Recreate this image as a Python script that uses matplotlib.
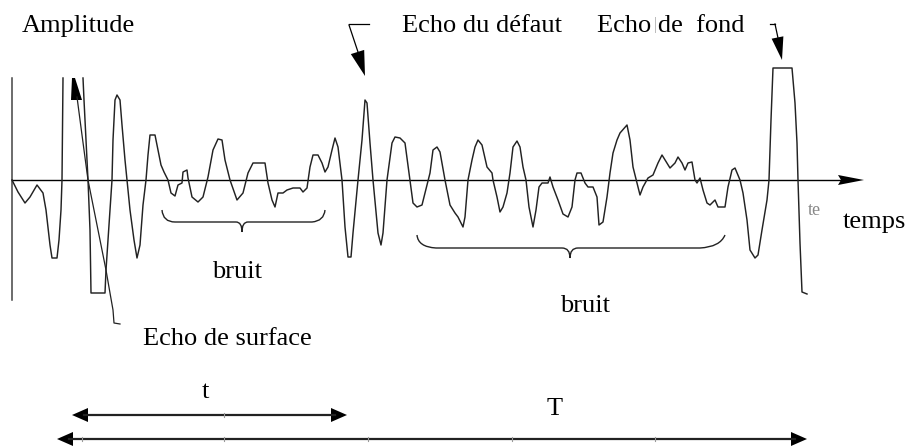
import numpy as np
import matplotlib.pyplot as plt
from matplotlib.path import Path
from matplotlib.patches import PathPatch

plt.rcParams['font.family'] = ['Liberation Serif', 'DejaVu Serif']

# A-scan trace: time (px) and amplitude (px above the time axis).
# The surface echo saturates, so the trace is broken at its top (nan).
temps = [12, 18, 25, 30, 37, 43, 46, 50, 52, 57, 59, 61, 62, 63, 73,
         83, 84, 86, 88, 90, 91, 105, 106, 108, 110, 112, 113, 115, 117, 120,
         122, 125, 127, 130, 134, 137, 140, 143, 146, 148, 150, 155, 158, 161,
         164, 168, 171, 175, 178, 182, 183, 187, 188, 192, 198, 203, 208, 213,
         218, 222, 225, 230, 237, 243, 248, 253, 265, 268, 272, 275, 278, 283,
         287, 293, 300, 303, 307, 310, 313, 318, 322, 325, 328, 332, 335, 338,
         342, 345, 348, 351, 353, 358, 362, 365, 367, 370, 373, 378, 381, 383,
         387, 392, 395, 400, 405, 410, 413, 417, 422, 425, 430, 433, 437, 440,
         445, 450, 455, 458, 463, 465, 468, 472, 475, 478, 482, 487, 492, 493,
         497, 500, 503, 507, 510, 513, 517, 520, 523, 526, 529, 533, 536, 539,
         542, 548, 550, 553, 558, 563, 568, 572, 575, 577, 581, 585, 588, 593,
         597, 599, 603, 607, 610, 613, 617, 620, 627, 630, 633, 637, 640, 643,
         648, 653, 658, 662, 667, 670, 675, 678, 682, 685, 688, 692, 695, 697,
         700, 703, 707, 710, 715, 718, 725, 728, 732, 735, 740, 743, 747, 750,
         755, 758, 762, 767, 769, 771, 773, 792, 795, 797, 798, 800, 802, 807]
amplitude = [0, -12, -23, -17, -5, -13, -30, -65, -78, -78, -60, -30, 0, 102, np.nan,
             102, 80, 40, 0, -50, -113, -113, -90, -60, -30, 0, 40, 80, 85, 80,
             55, 20, 0, -30, -60, -78, -65, -25, 0, 25, 45, 45, 30, 15,
             8, 0, -13, -16, -5, -3, 8, 10, 2, -17, -22, -17, 3, 30,
             41, 40, 20, 0, -20, -13, 7, 17, 17, -3, -20, -27, -13, -13,
             -10, -8, -8, -12, -8, 13, 25, 25, 17, 8, 13, 30, 42, 33,
             0, -47, -77, -77, -53, 0, 40, 80, 77, 37, 0, -53, -65, -53,
             0, 37, 43, 42, 37, 0, -23, -27, -25, -13, 7, 30, 33, 28,
             0, -25, -33, -37, -47, -37, 0, 20, 33, 40, 35, 13, 7, 0,
             -17, -32, -27, -13, 7, 33, 39, 33, 13, 0, -27, -47, -30, -7,
             -3, -3, 3, -7, -20, -34, -37, -27, 0, 7, 7, -3, -7, -7,
             -17, -45, -42, -17, 7, 27, 40, 47, 55, 40, 13, -3, -15, -7,
             2, 5, 17, 25, 17, 12, 17, 23, 17, 10, 17, 18, 0, -3,
             2, -10, -23, -25, -20, -27, -27, -7, 10, 12, 0, -13, -40, -70,
             -78, -75, -50, -20, 0, 60, 112, 112, 77, 37, 0, -63, -112, -114]

fig = plt.figure(figsize=(9.08, 4.48), dpi=100)
ax = fig.add_axes([0, 0, 1, 1])
ax.set_xlim(0, 908)
ax.set_ylim(-268, 180)
ax.axis('off')

fs = 19

def head(tip, base_c, half):
    # filled triangular arrow head from tip back to base centre
    tip = np.array(tip, float)
    b = np.array(base_c, float)
    d = tip - b
    n = np.array([-d[1], d[0]]) / np.hypot(*d) * half
    pts = np.array([tip, b + n, b - n])
    ax.fill(pts[:, 0], pts[:, 1], color='black', lw=0)

# amplitude axis and time axis
ax.plot([12, 12], [102, -120], color='#444', lw=1.1)
ax.plot([12, 840], [0, 0], color='black', lw=1.0)
ax.fill([838, 864, 838, 841], [5, 0, -5, 0], color='black', lw=0)

# the signal
ax.plot(temps, amplitude, color='#222', lw=1.05)

# surface echo pointer
ax.plot([77, 82, 88, 97, 106, 110, 113, 114, 120],
        [83, 45, 0, -45, -90, -113, -130, -143, -144], color='#222', lw=0.9)
ax.fill([71, 72, 75, 82], [80, 102, 102, 80], color='black', lw=0)

# defect echo pointer
ax.plot([349, 369], [156, 156], color='black', lw=0.9)
ax.plot([349, 358], [155, 128], color='black', lw=0.9)
head((365, 104), (357.5, 128), 7)

# back wall echo pointer
ax.plot([770, 775], [156, 156], color='black', lw=0.9)
ax.plot([775, 778], [156, 142], color='black', lw=0.9)
head((782, 120), (777.5, 142.5), 6)

# noise braces
M, L, C = Path.MOVETO, Path.LINETO, Path.CURVE3
brace1 = Path([(162, -30), (163, -42), (175, -42), (236, -42), (242, -42), (242, -52),
               (242, -42), (248, -42), (312, -42), (324, -41), (325, -30)],
              [M, C, C, L, C, C, C, C, L, C, C])
brace2 = Path([(417, -55), (418, -67), (436, -68), (562, -68), (570, -68), (570, -78),
               (570, -68), (578, -68), (700, -68), (720, -67), (725, -55)],
              [M, C, C, L, C, C, C, C, L, C, C])
for p in (brace1, brace2):
    ax.add_patch(PathPatch(p, fill=False, color='#222', lw=1.0))

# t and T durations
for y, x0, x1 in [(-235, 72, 347), (-259, 57, 807)]:
    ax.plot([x0 + 12, x1 - 12], [y, y], color='#222', lw=1.6)
    head((x0, y), (x0 + 16, y), 7)
    head((x1, y), (x1 - 16, y), 7)
ax.plot([224, 224], [-233, -237], color='#999', lw=0.8)
for x in [82, 224, 368, 512, 655]:
    ax.plot([x, x], [-257, -261], color='#999', lw=0.8)

# labels
ax.text(22, 148, 'Amplitude', fontsize=fs, va='baseline')
ax.text(402, 148, 'Echo du défaut', fontsize=fs, va='baseline')
ax.text(597, 148, 'Echo de  fond', fontsize=fs, va='baseline')
ax.plot([655, 655], [163, 148], color='#bbb', lw=0.7)
ax.text(808, -30, 'te', fontsize=13, color='#888', va='center')
ax.text(843, -48, 'temps', fontsize=fs, va='baseline')
ax.text(212, -98, 'bruit', fontsize=fs, va='baseline')
ax.text(560, -132, 'bruit', fontsize=fs, va='baseline')
ax.text(143, -165, 'Echo de surface', fontsize=fs, va='baseline')
ax.text(205, -218, 't', fontsize=fs, va='baseline', ha='center')
ax.text(555, -235, 'T', fontsize=fs, va='baseline', ha='center')

fig.savefig('out.png', dpi=100)
